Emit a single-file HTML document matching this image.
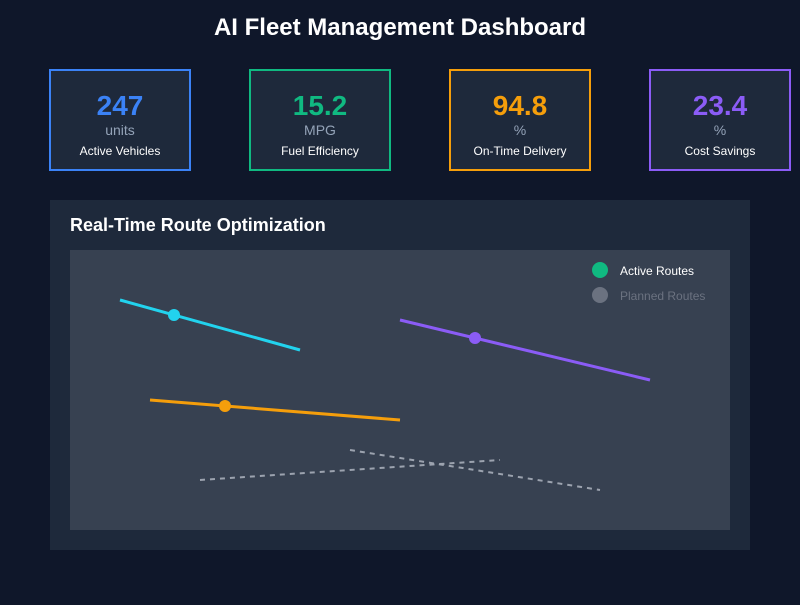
<!DOCTYPE html>
<html><head><style>
body{margin:0;width:800px;height:600px;background:#0f172a;font-family:"Liberation Sans",sans-serif;overflow:hidden}
</style></head><body>
<svg width="800" height="600" xmlns="http://www.w3.org/2000/svg" font-family="Liberation Sans, sans-serif">
<rect width="800" height="600" fill="#0f172a"/>
<text x="400" y="35" text-anchor="middle" fill="#fff" font-size="24" font-weight="bold">AI Fleet Management Dashboard</text>
<g>
<rect x="50" y="70" width="140" height="100" fill="#1e293b" stroke="#3b82f6" stroke-width="2"/>
<text x="120" y="115" text-anchor="middle" fill="#3b82f6" font-size="28" font-weight="bold">247</text>
<text x="120" y="135" text-anchor="middle" fill="#94a3b8" font-size="14">units</text>
<text x="120" y="155" text-anchor="middle" fill="#fff" font-size="12">Active Vehicles</text>
</g>
<g>
<rect x="250" y="70" width="140" height="100" fill="#1e293b" stroke="#10b981" stroke-width="2"/>
<text x="320" y="115" text-anchor="middle" fill="#10b981" font-size="28" font-weight="bold">15.2</text>
<text x="320" y="135" text-anchor="middle" fill="#94a3b8" font-size="14">MPG</text>
<text x="320" y="155" text-anchor="middle" fill="#fff" font-size="12">Fuel Efficiency</text>
</g>
<g>
<rect x="450" y="70" width="140" height="100" fill="#1e293b" stroke="#f59e0b" stroke-width="2"/>
<text x="520" y="115" text-anchor="middle" fill="#f59e0b" font-size="28" font-weight="bold">94.8</text>
<text x="520" y="135" text-anchor="middle" fill="#94a3b8" font-size="14">%</text>
<text x="520" y="155" text-anchor="middle" fill="#fff" font-size="12">On-Time Delivery</text>
</g>
<g>
<rect x="650" y="70" width="140" height="100" fill="#1e293b" stroke="#8b5cf6" stroke-width="2"/>
<text x="720" y="115" text-anchor="middle" fill="#8b5cf6" font-size="28" font-weight="bold">23.4</text>
<text x="720" y="135" text-anchor="middle" fill="#94a3b8" font-size="14">%</text>
<text x="720" y="155" text-anchor="middle" fill="#fff" font-size="12">Cost Savings</text>
</g>
<rect x="50" y="200" width="700" height="350" fill="#1e293b"/>
<text x="70" y="231" fill="#fff" font-size="18" font-weight="bold">Real-Time Route Optimization</text>
<rect x="70" y="250" width="660" height="280" fill="#374151"/>
<line x1="120" y1="300" x2="300" y2="350" stroke="#22d3ee" stroke-width="3"/>
<circle cx="174" cy="315" r="6" fill="#22d3ee"/>
<line x1="400" y1="320" x2="650" y2="380" stroke="#8b5cf6" stroke-width="3"/>
<circle cx="475" cy="338" r="6" fill="#8b5cf6"/>
<line x1="150" y1="400" x2="400" y2="420" stroke="#f59e0b" stroke-width="3"/>
<circle cx="225" cy="406" r="6" fill="#f59e0b"/>
<line x1="200" y1="480" x2="500" y2="460" stroke="#9ca3af" stroke-width="2" stroke-dasharray="5,5"/>
<line x1="350" y1="450" x2="600" y2="490" stroke="#9ca3af" stroke-width="2" stroke-dasharray="5,5"/>
<circle cx="600" cy="270" r="8" fill="#10b981"/>
<text x="620" y="275" fill="#fff" font-size="12">Active Routes</text>
<circle cx="600" cy="295" r="8" fill="#6b7280"/>
<text x="620" y="300" fill="#6b7280" font-size="12">Planned Routes</text>
</svg>
</body></html>
